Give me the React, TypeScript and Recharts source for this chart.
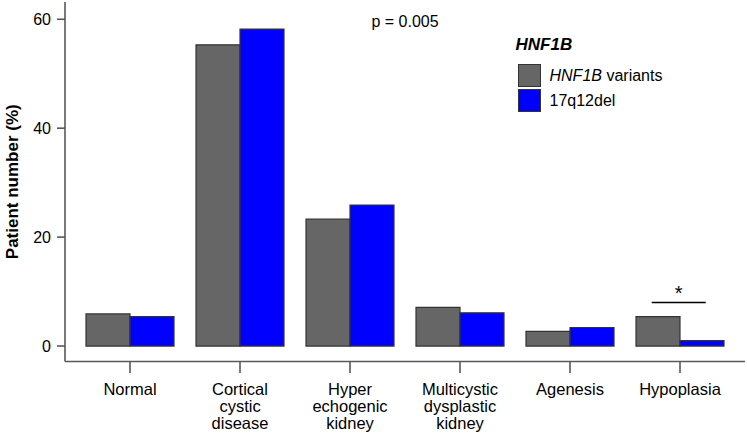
import React from 'react';
import { BarChart, Bar, XAxis, YAxis, Legend, ReferenceLine, ReferenceDot, Label } from 'recharts';

const categories = [
  'Normal',
  'Cortical cystic disease',
  'Hyper echogenic kidney',
  'Multicystic dysplastic kidney',
  'Agenesis',
  'Hypoplasia',
];
const hnf1bVariants = [5.9, 55.3, 23.3, 7.1, 2.7, 5.4];
const del17q12 = [5.4, 58.2, 25.9, 6.1, 3.4, 1.0];
const seriesNames = ['HNF1B variants', '17q12del'];
const seriesColors = ['#666666', '#0000FF'];
const yTicks = [0, 20, 40, 60];
const yDomain = [-2.84, 63.17];
const legendTitle = 'HNF1B';
const yTitle = 'Patient number (%)';
const pValueLabel = 'p = 0.005';
const pValueY = 59.6;
const sigCategory = 'Hypoplasia';
const sigY = 8.0;
const sigMark = '*';

const data = categories.map((c, i) => ({
  category: c,
  variants: hnf1bVariants[i],
  del: del17q12[i],
}));

const FONT = '"Liberation Sans", Arial, Helvetica, sans-serif';
const AXIS = { stroke: '#595959', strokeWidth: 1.6 };

const XTick = (props: any) => {
  const { x, y, payload } = props;
  const lines = String(payload.value).split(' ');
  return (
    <text x={x} y={y + 22} textAnchor="middle" fontSize={16.5} fontFamily={FONT} fill="#000">
      {lines.map((l, i) => (
        <tspan key={i} x={x} dy={i === 0 ? 0 : 17.2}>
          {l}
        </tspan>
      ))}
    </text>
  );
};

const YTitle = (props: any) => {
  const vb = props.viewBox || { x: 0, y: 2, width: 65, height: 359.5 };
  const cx = vb.x + 17.5;
  const cy = vb.y + vb.height / 2;
  return (
    <text
      x={cx}
      y={cy}
      transform={`rotate(-90, ${cx}, ${cy})`}
      textAnchor="middle"
      fontSize={17}
      fontWeight="bold"
      fontFamily={FONT}
      fill="#000"
    >
      {yTitle}
    </text>
  );
};

const SigShape = (props: any) => {
  const { cx, cy } = props;
  const c = cx - 1.3;
  return (
    <g>
      <line x1={c - 27} x2={c + 27} y1={cy} y2={cy} stroke="#000" strokeWidth={1.5} />
      <text x={c} y={cy - 2.5} textAnchor="middle" fontSize={20} fontFamily={FONT} fill="#000">
        {sigMark}
      </text>
    </g>
  );
};

const renderLegendName = (name: string) => {
  if (name.startsWith(legendTitle)) {
    return (
      <>
        <span style={{ fontStyle: 'italic' }}>{legendTitle}</span>
        {name.slice(legendTitle.length)}
      </>
    );
  }
  return name;
};

const LegendContent = (props: any) => {
  const payload: any[] = props.payload || [];
  const items = seriesNames.map((n, i) => {
    const p = payload.find((e) => e.value === n);
    return { name: n, color: (p && p.color) || seriesColors[i] };
  });
  return (
    <div style={{ fontFamily: FONT, color: '#000', textAlign: 'left' }}>
      <div
        style={{
          fontWeight: 'bold',
          fontStyle: 'italic',
          fontSize: 17,
          lineHeight: '20px',
          height: 20,
          marginBottom: 9,
        }}
      >
        {legendTitle}
      </div>
      {items.map((it, i) => (
        <div
          key={i}
          style={{ display: 'flex', alignItems: 'center', height: 23, marginBottom: 2, marginLeft: 2 }}
        >
          <span
            style={{
              display: 'inline-block',
              width: 23,
              height: 23,
              boxSizing: 'border-box',
              background: it.color,
              border: '1.5px solid #333',
            }}
          />
          <span style={{ marginLeft: 9, fontSize: 16, lineHeight: '23px', whiteSpace: 'nowrap' }}>
            {renderLegendName(it.name)}
          </span>
        </div>
      ))}
    </div>
  );
};

export default function App() {
  return (
    <div
      style={{
        position: 'absolute',
        left: 0,
        top: 0,
        width: 747,
        height: 434,
        background: '#fff',
        fontFamily: FONT,
      }}
    >
      <BarChart
        width={747}
        height={434}
        data={data}
        margin={{ top: 2, right: 2, left: 0, bottom: 0 }}
        barGap={0}
        barCategoryGap={22}
      >
        <XAxis
          dataKey="category"
          height={72.5}
          interval={0}
          padding={{ left: 10, right: 10 }}
          tickSize={11.5}
          tickMargin={0}
          tickLine={AXIS}
          axisLine={AXIS}
          tick={<XTick />}
        />
        <XAxis
          xAxisId="top"
          orientation="top"
          dataKey="category"
          height={0}
          tick={false}
          tickLine={false}
          axisLine={AXIS}
        />
        <YAxis
          type="number"
          domain={yDomain}
          ticks={yTicks}
          width={65}
          tickSize={8}
          tickMargin={6}
          tickLine={AXIS}
          axisLine={AXIS}
          tick={{ fontSize: 16, fontFamily: FONT, fill: '#000' }}
          label={<Label content={<YTitle />} />}
          allowDataOverflow
        />
        <YAxis
          yAxisId="right"
          orientation="right"
          type="number"
          domain={[0, 1]}
          width={0}
          tick={false}
          tickLine={false}
          axisLine={AXIS}
        />
        <Legend
          layout="vertical"
          align="center"
          verticalAlign="middle"
          content={<LegendContent />}
          wrapperStyle={{ position: 'absolute', left: 515.5, top: 35, width: 200, height: 'auto' }}
        />
        <Bar
          dataKey="variants"
          name={seriesNames[0]}
          fill={seriesColors[0]}
          stroke="#333"
          strokeWidth={1.2}
          barSize={44}
          isAnimationActive={false}
        />
        <Bar
          dataKey="del"
          name={seriesNames[1]}
          fill={seriesColors[1]}
          stroke="#333"
          strokeWidth={1.2}
          barSize={44}
          isAnimationActive={false}
        />
        <ReferenceLine
          y={pValueY}
          stroke="none"
          strokeOpacity={0}
          label={{ value: pValueLabel, position: 'center', fill: '#000', fontSize: 16, fontFamily: FONT }}
        />
        <ReferenceDot x={sigCategory} y={sigY} r={0} shape={<SigShape />} />
      </BarChart>
    </div>
  );
}
